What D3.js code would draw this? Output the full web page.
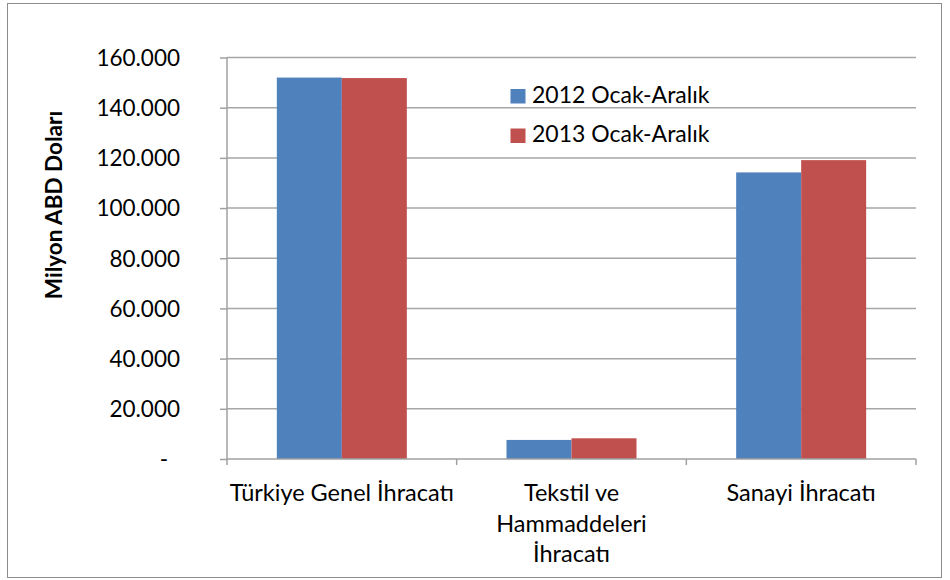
<!DOCTYPE html>
<html><head><meta charset="utf-8">
<script src="https://cdn.jsdelivr.net/npm/d3@7"></script>
<style>body{margin:0;background:#fff}svg{display:block}text{font-family:Lato,"Open Sans",sans-serif}</style>
</head><body><svg id="c" width="950" height="580"></svg>
<script>
const categories = [["Türkiye Genel İhracatı"], ["Tekstil ve", "Hammaddeleri", "İhracatı"], ["Sanayi İhracatı"]];
const seriesNames = ["2012 Ocak-Aralık", "2013 Ocak-Aralık"];
const values2012 = [152000, 7600, 114200];
const values2013 = [151800, 8250, 119100];
const yTicks = [0, 20000, 40000, 60000, 80000, 100000, 120000, 140000, 160000];
const colors = ["#4F81BD", "#C0504D"];

const svg = d3.select("#c");
svg.append("rect").attr("x", 7.5).attr("y", 3.5).attr("width", 934).attr("height", 574)
  .attr("fill", "#fff").attr("stroke", "#8c8c8c").attr("stroke-width", 1);

const L = 227, R = 916, T = 57.5, B = 459;
const y = d3.scaleLinear().domain([0, 160000]).range([B, T]);
const x0 = d3.scaleBand().domain(d3.range(categories.length)).range([L, R]).paddingInner(0).paddingOuter(0);
const bw = 65;
const x1 = d3.scaleBand().domain([0, 1]).range([0, bw * 2]);

// gridlines
svg.append("g").selectAll("line").data(yTicks.filter(d => d > 0)).join("line")
  .attr("x1", L).attr("x2", R).attr("y1", d => y(d)).attr("y2", d => y(d))
  .attr("stroke", "#a6a6a6").attr("stroke-width", 1.5);

// bars
const data = [values2012, values2013];
const g = svg.append("g");
categories.forEach((c, i) => {
  const cx = x0(i) + x0.bandwidth() / 2 - bw;
  data.forEach((vals, s) => {
    g.append("rect").attr("x", cx + x1(s)).attr("width", x1.bandwidth())
      .attr("y", y(vals[i])).attr("height", B - y(vals[i])).attr("fill", colors[s]);
  });
});

// y axis
const yAxis = d3.axisLeft(y).tickValues(yTicks).tickSize(7)
  .tickFormat(d => d === 0 ? "-" : d3.format(",")(d).replace(/,/g, "."));
const ya = svg.append("g").attr("transform", `translate(${L},0)`).call(yAxis);
ya.select(".domain").attr("stroke", "#a0a0a0").attr("stroke-width", 1.5).attr("d", `M0,${T}V${B}`);
ya.selectAll(".tick line").attr("stroke", "#a0a0a0").attr("stroke-width", 1.5);
ya.selectAll(".tick text").attr("font-size", 22.5).attr("fill", "#000").attr("x", -47).attr("font-family", "Lato")
  .attr("dy", "0.35em");
ya.selectAll(".tick text").filter(d => d === 0).attr("x", -59);

// x axis
svg.append("line").attr("x1", L).attr("x2", R).attr("y1", B).attr("y2", B).attr("stroke", "#a0a0a0").attr("stroke-width", 1.5);
svg.append("g").selectAll("line").data(d3.range(categories.length + 1)).join("line")
  .attr("x1", i => L + i * x0.bandwidth()).attr("x2", i => L + i * x0.bandwidth())
  .attr("y1", B).attr("y2", B + 6).attr("stroke", "#a0a0a0").attr("stroke-width", 1.5);

categories.forEach((lines, i) => {
  const t = svg.append("text").attr("text-anchor", "middle").attr("font-size", 23.5).attr("fill", "#000");
  lines.forEach((ln, k) => {
    t.append("tspan").attr("x", x0(i) + x0.bandwidth() / 2).attr("y", 501 + k * 30.5).text(ln);
  });
});

// y title
svg.append("text").attr("transform", "translate(62,205) rotate(-90)").attr("text-anchor", "middle")
  .attr("font-size", 22.5).attr("font-weight", "bold").attr("fill", "#000").text("Milyon ABD Doları");

// legend
seriesNames.forEach((n, s) => {
  const ly = 89 + s * 39.5;
  svg.append("rect").attr("x", 510.5).attr("y", ly).attr("width", 15).attr("height", 14.5).attr("fill", colors[s]);
  svg.append("text").attr("x", 532).attr("y", ly + 13.5).attr("font-size", 23).attr("fill", "#000").text(n);
});
</script></body></html>
